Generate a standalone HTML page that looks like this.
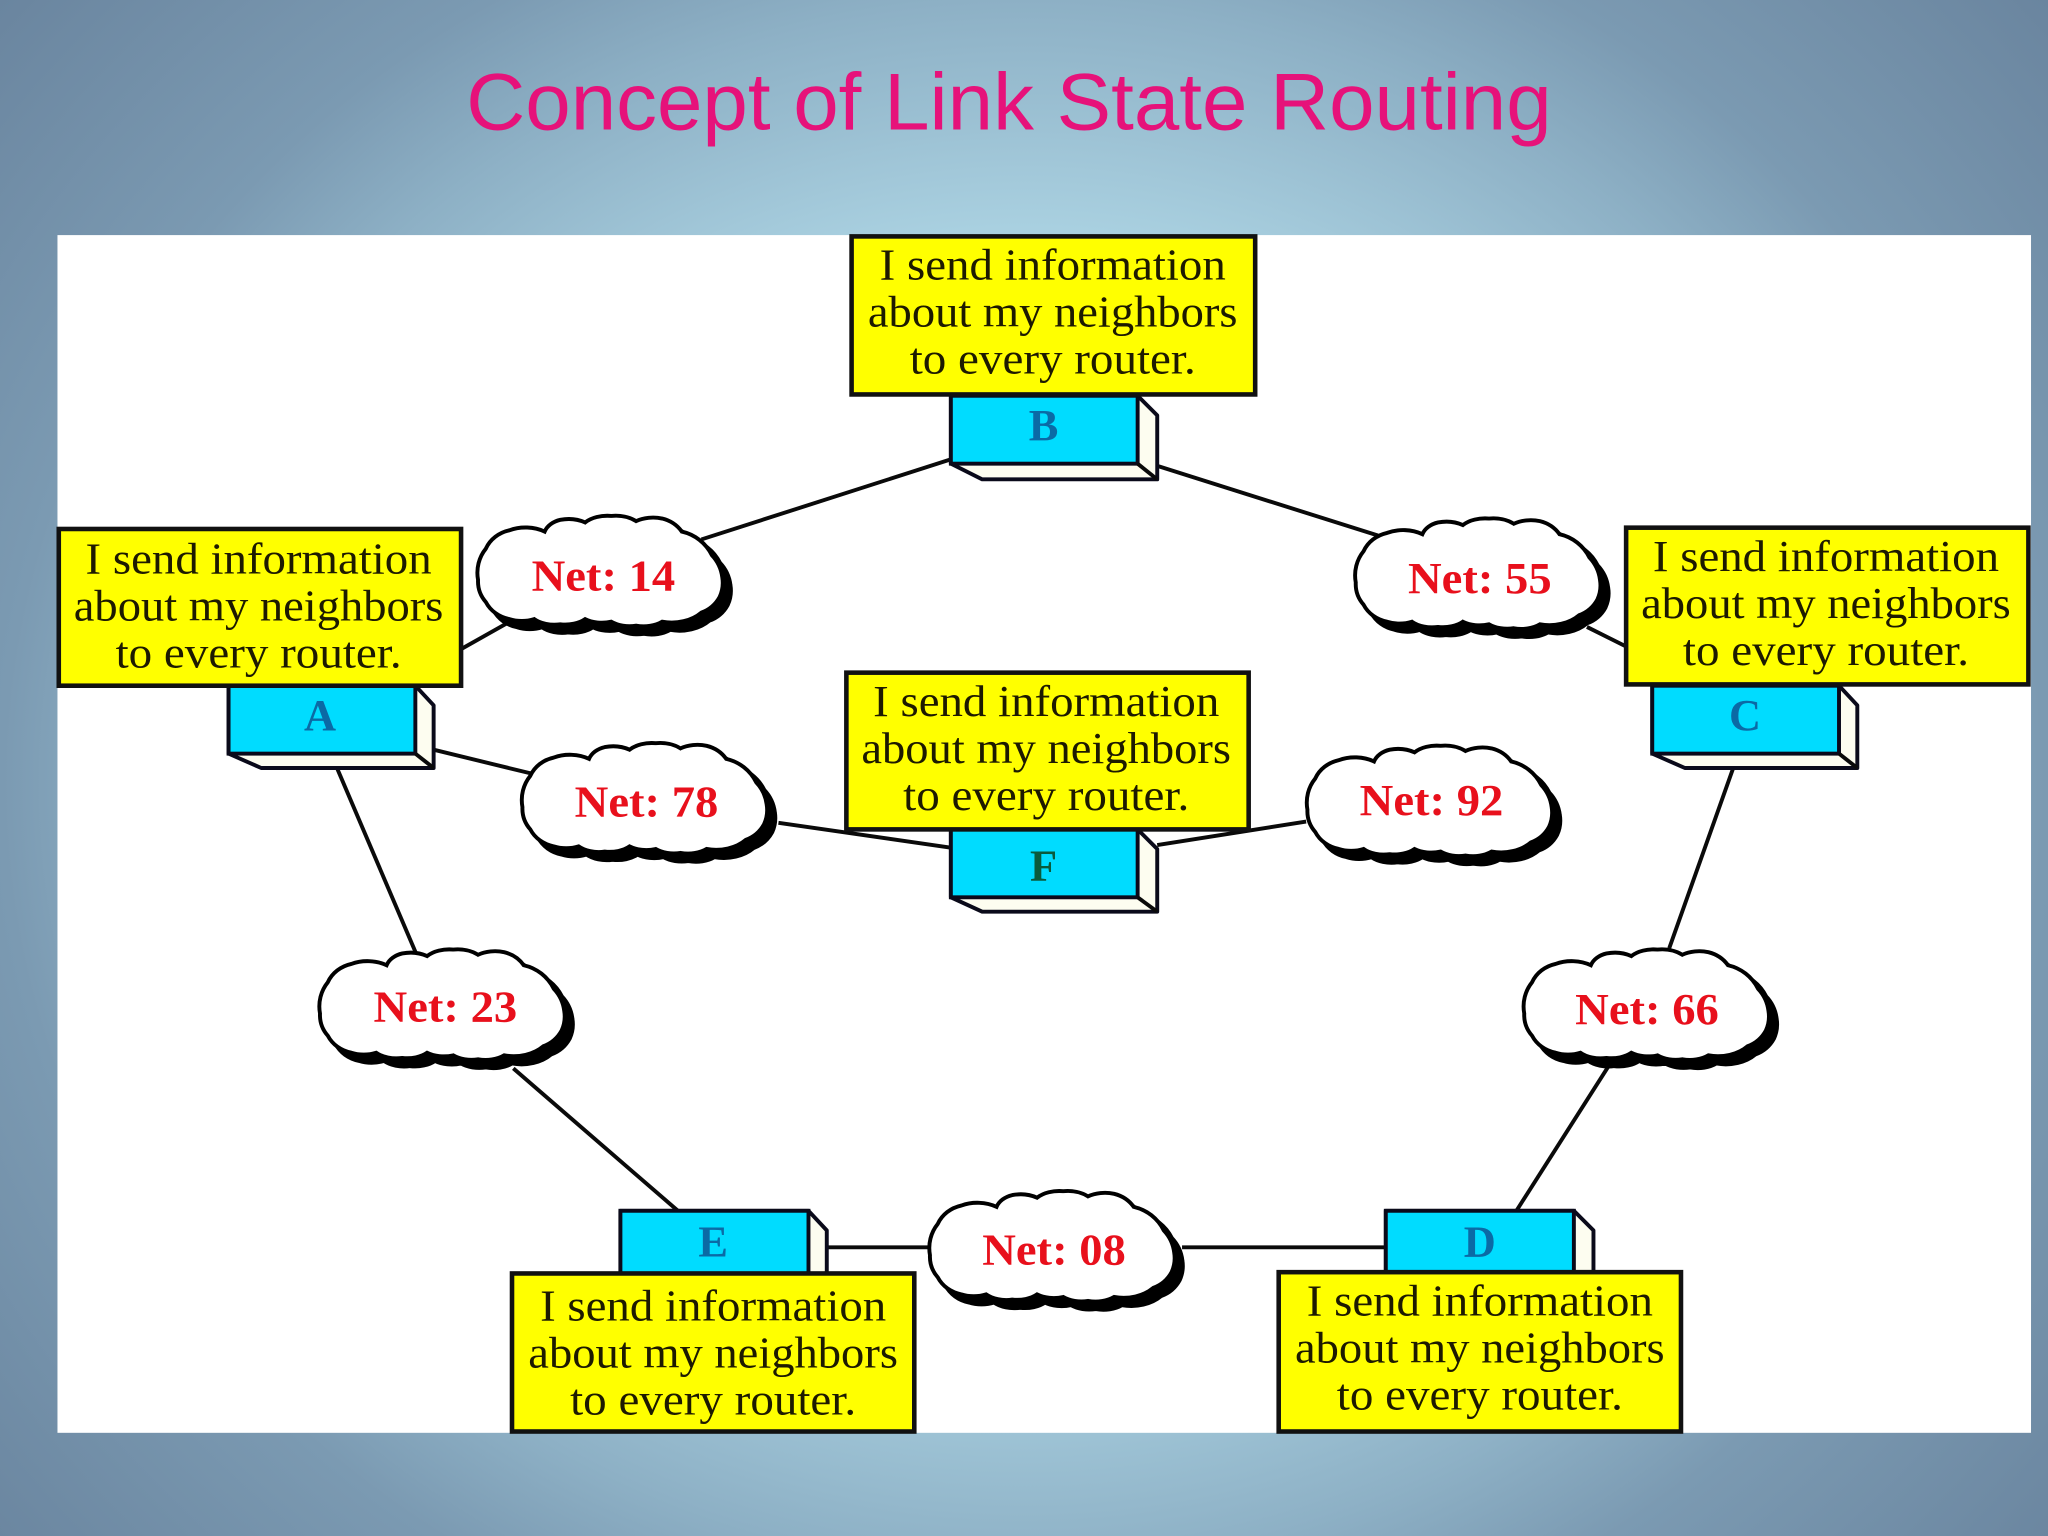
<!DOCTYPE html>
<html><head><meta charset="utf-8"><style>
html,body{margin:0;padding:0;width:2048px;height:1536px;overflow:hidden;background:#7b9ab2}
svg{display:block}
.y{font-family:"Liberation Serif",serif;font-size:34px;fill:#1d1a00;text-anchor:middle}
.n{font-family:"Liberation Serif",serif;font-size:34px;font-weight:bold;fill:#e8101c;text-anchor:middle}
.r{font-family:"Liberation Serif",serif;font-size:34px;font-weight:bold;fill:#0b6aa5;text-anchor:middle}
.b{fill:#ffff00;stroke:#111;stroke-width:3.5}
.c{fill:#00dcff;stroke:#0a0a1a;stroke-width:3}
.s{fill:#fdfdf0;stroke:#0a0a1a;stroke-width:3;stroke-linejoin:round}
.l{stroke:#0a0a0a;stroke-width:3;fill:none}
</style></head><body>
<svg width="2048" height="1536" viewBox="0 0 1568 1176" xmlns="http://www.w3.org/2000/svg">
<defs>
<radialGradient id="bg" gradientUnits="userSpaceOnUse" cx="0" cy="0" r="1" gradientTransform="translate(784 600) scale(1029 924)">
<stop offset="0" stop-color="#bfe4f0"/>
<stop offset="0.46" stop-color="#a9d0e0"/>
<stop offset="0.65" stop-color="#8db0c5"/>
<stop offset="0.76" stop-color="#7b9ab2"/>
<stop offset="1" stop-color="#6a859f"/>
</radialGradient>
<path id="cl" d="M-70,-33 A26,18 0 0 1 -43,-32 A18,14 0 0 1 -31,-41 A22,14 0 0 1 -12,-39 A22,14 0 0 1 8,-44 A22,14 0 0 1 27,-40 A22,14 0 0 1 47,-42 A26,24 0 0 1 62,-32 A34,34 0 0 1 85,-14 A30,30 0 0 1 93,3 A26,26 0 0 1 91,18 A26,26 0 0 1 77,30 A30,22 0 0 1 47,37 A20,12 0 0 1 27,40 A20,12 0 0 1 8,37 A20,12 0 0 1 -12,35 A20,12 0 0 1 -31,39 A20,12 0 0 1 -51,35 A20,12 0 0 1 -70,35 A26,24 0 0 1 -88,22 A24,24 0 0 1 -94,5 A26,28 0 0 1 -88,-19 A26,24 0 0 1 -70,-33 Z"/>
<g id="cloud"><use href="#cl" x="6" y="6" fill="#000" stroke="#000" stroke-width="3.5"/><use href="#cl" fill="#fff" stroke="#000" stroke-width="3"/></g>
</defs>
<rect width="1568" height="1176" fill="url(#bg)"/>
<text x="357" y="99" font-family="Liberation Sans, sans-serif" font-size="62" fill="#e6127a" textLength="831" lengthAdjust="spacingAndGlyphs">Concept of Link State Routing</text>
<rect x="44" y="180" width="1511" height="917" fill="#fff"/>

<g class="l">
<line x1="727" y1="352" x2="537" y2="413"/>
<line x1="353" y1="497" x2="392" y2="475"/>
<line x1="887" y1="357" x2="1055" y2="410"/>
<line x1="1245" y1="495" x2="1215" y2="480"/>
<line x1="332" y1="574" x2="410" y2="593"/>
<line x1="596" y1="630" x2="728" y2="649"/>
<line x1="886" y1="647" x2="1000" y2="629"/>
<line x1="258" y1="588" x2="319" y2="731"/>
<line x1="393" y1="818" x2="519" y2="927"/>
<line x1="1327" y1="588" x2="1278" y2="726"/>
<line x1="1233" y1="814" x2="1161" y2="927"/>
<line x1="633" y1="955" x2="712" y2="955"/>
<line x1="905" y1="955" x2="1061" y2="955"/>
</g>

<!-- routers -->
<polygon class="s" points="871,303 886,318 886,367 752,367 728,355 728,303"/>
<rect class="c" x="728" y="303" width="143" height="52"/>
<line class="l" x1="871" y1="355" x2="886" y2="367"/>
<text class="r" x="799" y="337">B</text>

<polygon class="s" points="318,525 332,540 332,588 200,588 175,577 175,525"/>
<rect class="c" x="175" y="525" width="143" height="52"/>
<line class="l" x1="318" y1="577" x2="332" y2="588"/>
<text class="r" x="245" y="559">A</text>

<polygon class="s" points="1408,525 1422,540 1422,588 1290,588 1265,577 1265,525"/>
<rect class="c" x="1265" y="525" width="143" height="52"/>
<line class="l" x1="1408" y1="577" x2="1422" y2="588"/>
<text class="r" x="1336" y="559">C</text>

<polygon class="s" points="871,635 886,650 886,698 752,698 728,687 728,635"/>
<rect class="c" x="728" y="635" width="143" height="52"/>
<line class="l" x1="871" y1="687" x2="886" y2="698"/>
<text class="r" x="799" y="674" style="fill:#0a5a3c">F</text>

<polygon class="s" points="619,927 633,942 633,976 475,976 475,927"/>
<rect class="c" x="475" y="927" width="144" height="49"/>
<text class="r" x="546" y="962">E</text>

<polygon class="s" points="1205,927 1220,942 1220,976 1061,976 1061,927"/>
<rect class="c" x="1061" y="927" width="144" height="49"/>
<text class="r" x="1133" y="962">D</text>

<!-- yellow boxes -->
<rect class="b" x="652" y="181" width="309" height="121"/>
<text class="y" x="806" y="214" textLength="265" lengthAdjust="spacingAndGlyphs">I send information</text>
<text class="y" x="806" y="250" textLength="283" lengthAdjust="spacingAndGlyphs">about my neighbors</text>
<text class="y" x="806" y="286" textLength="219" lengthAdjust="spacingAndGlyphs">to every router.</text>

<rect class="b" x="45" y="405" width="308" height="120"/>
<text class="y" x="198" y="439" textLength="265" lengthAdjust="spacingAndGlyphs">I send information</text>
<text class="y" x="198" y="475" textLength="283" lengthAdjust="spacingAndGlyphs">about my neighbors</text>
<text class="y" x="198" y="511" textLength="219" lengthAdjust="spacingAndGlyphs">to every router.</text>

<rect class="b" x="1245" y="404" width="308" height="120"/>
<text class="y" x="1398" y="437" textLength="265" lengthAdjust="spacingAndGlyphs">I send information</text>
<text class="y" x="1398" y="473" textLength="283" lengthAdjust="spacingAndGlyphs">about my neighbors</text>
<text class="y" x="1398" y="509" textLength="219" lengthAdjust="spacingAndGlyphs">to every router.</text>

<rect class="b" x="648" y="515" width="308" height="120"/>
<text class="y" x="801" y="548" textLength="265" lengthAdjust="spacingAndGlyphs">I send information</text>
<text class="y" x="801" y="584" textLength="283" lengthAdjust="spacingAndGlyphs">about my neighbors</text>
<text class="y" x="801" y="620" textLength="219" lengthAdjust="spacingAndGlyphs">to every router.</text>

<rect class="b" x="392" y="975" width="308" height="121"/>
<text class="y" x="546" y="1011" textLength="265" lengthAdjust="spacingAndGlyphs">I send information</text>
<text class="y" x="546" y="1047" textLength="283" lengthAdjust="spacingAndGlyphs">about my neighbors</text>
<text class="y" x="546" y="1083" textLength="219" lengthAdjust="spacingAndGlyphs">to every router.</text>

<rect class="b" x="979" y="974" width="308" height="122"/>
<text class="y" x="1133" y="1007" textLength="265" lengthAdjust="spacingAndGlyphs">I send information</text>
<text class="y" x="1133" y="1043" textLength="283" lengthAdjust="spacingAndGlyphs">about my neighbors</text>
<text class="y" x="1133" y="1079" textLength="219" lengthAdjust="spacingAndGlyphs">to every router.</text>

<!-- clouds -->
<use href="#cloud" x="460" y="439"/>
<text class="n" x="462" y="452" textLength="110" lengthAdjust="spacingAndGlyphs">Net: 14</text>
<use href="#cloud" x="1132" y="441"/>
<text class="n" x="1133" y="454" textLength="110" lengthAdjust="spacingAndGlyphs">Net: 55</text>
<use href="#cloud" x="494" y="613"/>
<text class="n" x="495" y="625" textLength="110" lengthAdjust="spacingAndGlyphs">Net: 78</text>
<use href="#cloud" x="1095" y="615"/>
<text class="n" x="1096" y="624" textLength="110" lengthAdjust="spacingAndGlyphs">Net: 92</text>
<use href="#cloud" x="339" y="771"/>
<text class="n" x="341" y="782" textLength="110" lengthAdjust="spacingAndGlyphs">Net: 23</text>
<use href="#cloud" x="1261" y="771"/>
<text class="n" x="1261" y="784" textLength="110" lengthAdjust="spacingAndGlyphs">Net: 66</text>
<use href="#cloud" x="806" y="956"/>
<text class="n" x="807" y="968" textLength="110" lengthAdjust="spacingAndGlyphs">Net: 08</text>
</svg>
</body></html>
